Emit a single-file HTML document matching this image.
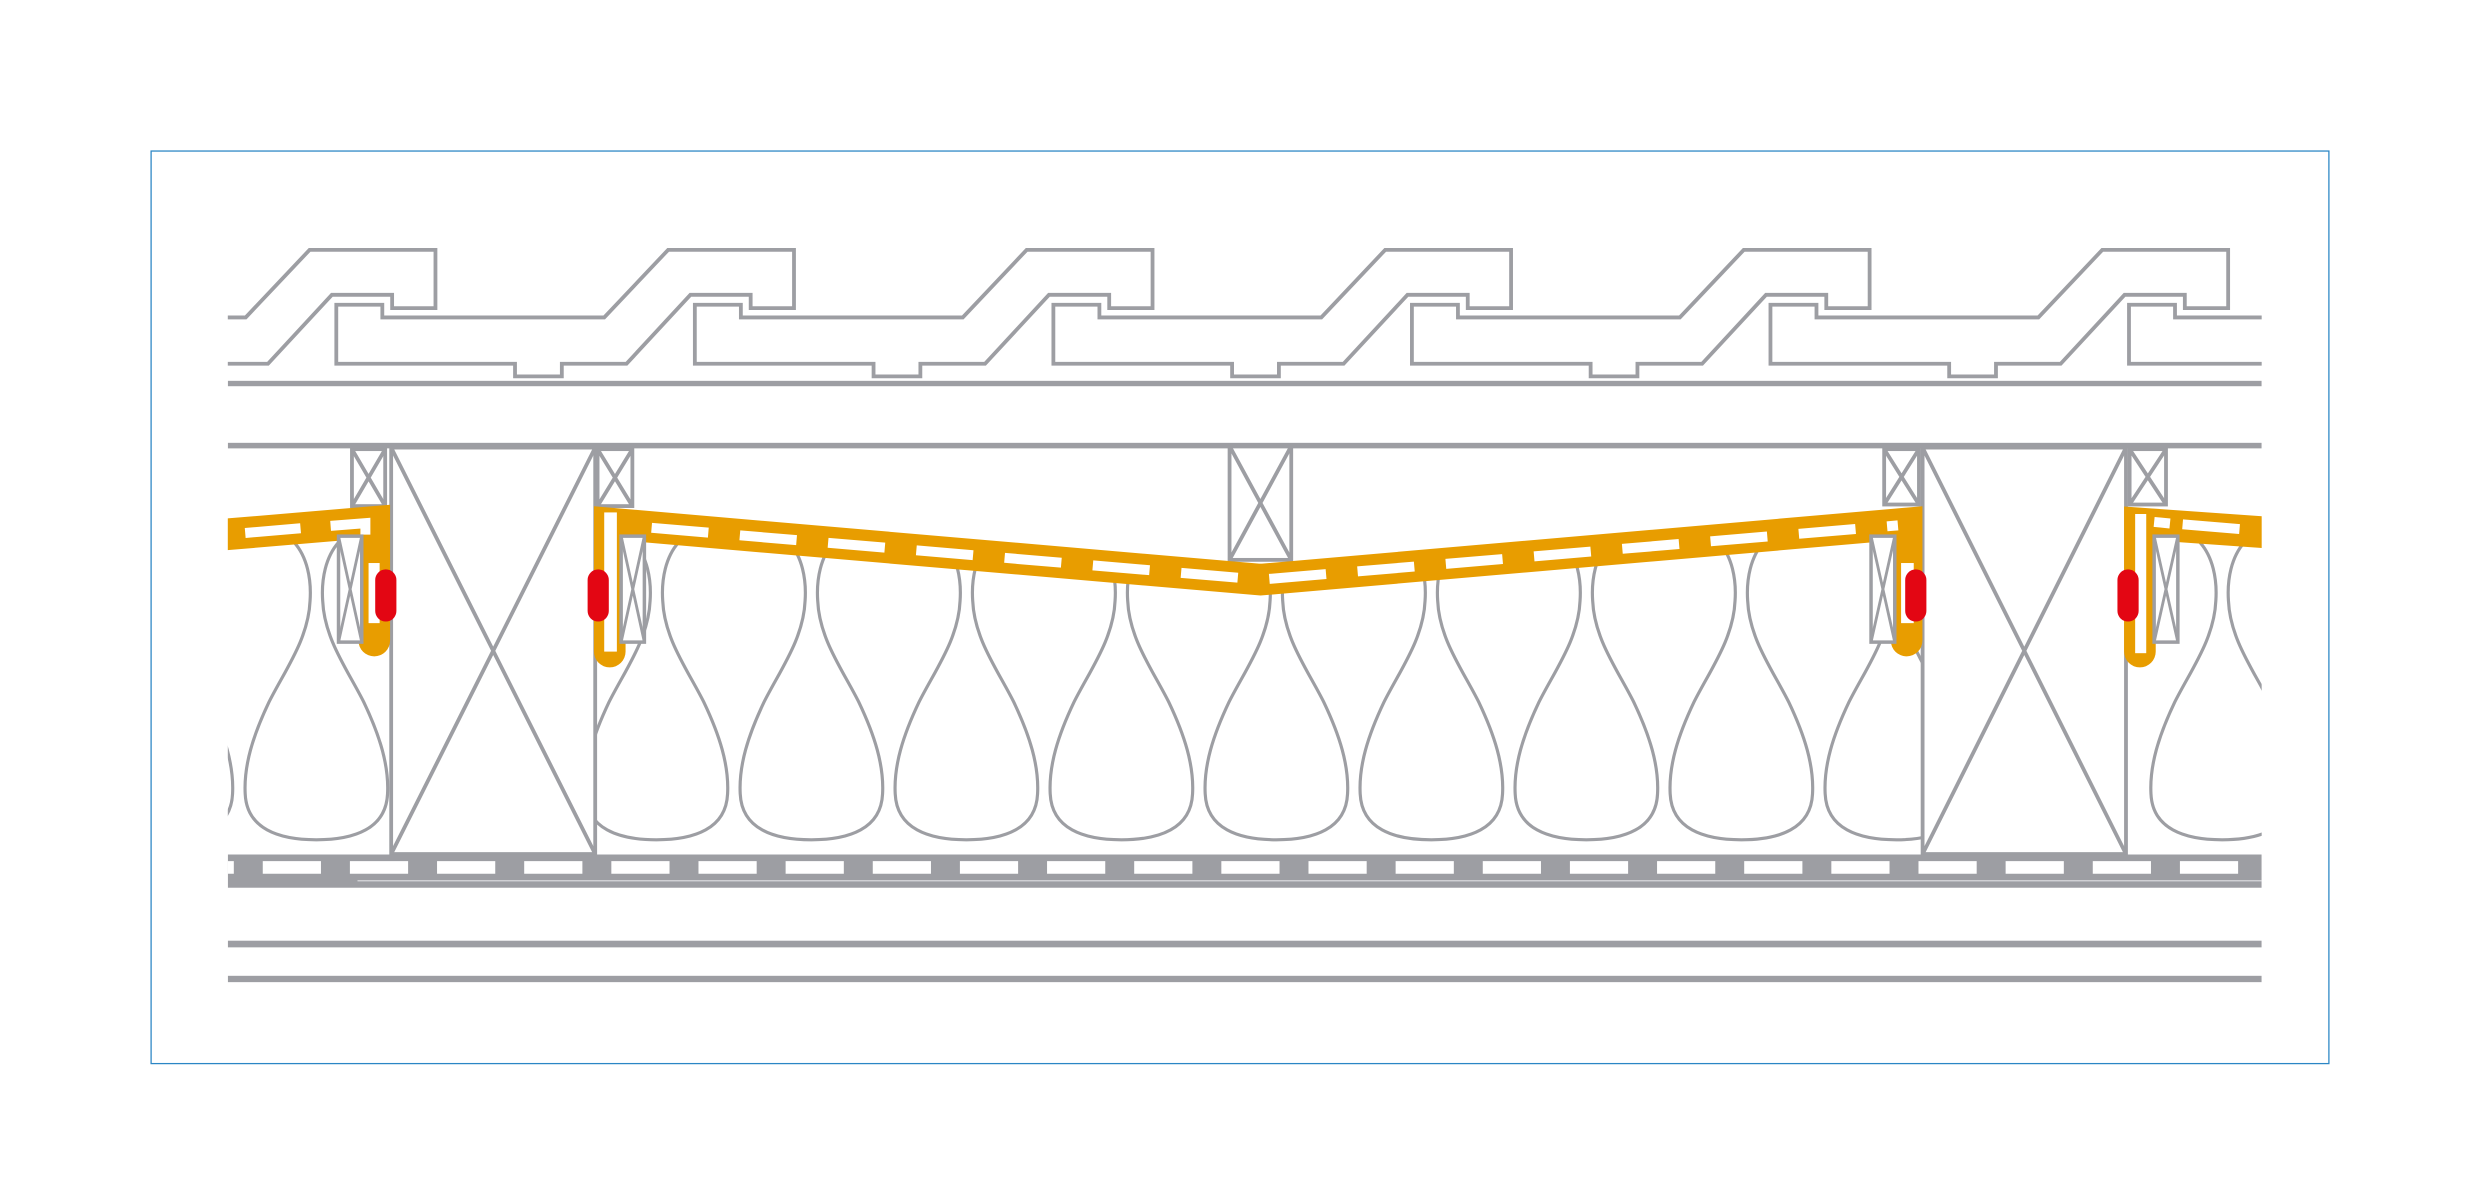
<!DOCTYPE html>
<html><head><meta charset="utf-8"><style>html,body{margin:0;padding:0;background:#fff}svg{display:block}</style></head>
<body>
<svg width="2480" height="1183" viewBox="0 0 1568 748" xmlns="http://www.w3.org/2000/svg">
<defs>
<clipPath id="c"><rect x="144" y="100" width="1286" height="560"/></clipPath>
<polygon id="tile" points="0,192.7 29.1,192.7 29.1,200.7 169.4,200.7 209.8,158 289.4,158 289.4,194.8 262,194.8 262,186.4 223.9,186.4 183.5,230 142.6,230 142.6,238 113,238 113,230 0,230" fill="none" stroke="#9d9ea3" stroke-width="2.4"/>
<path id="loop" d="M -14,343 C -6,352 -3,366 -4,380 C -5,404 -20,424 -30,444 C -40,465 -46,484 -45,502 C -44,524 -24,531 0,531 C 24,531 44,524 45,502 C 46,484 40,465 30,444 C 20,424 5,404 4,380 C 3,366 6,352 14,343" fill="none" stroke="#9d9ea3" stroke-width="2"/>
</defs>
<rect x="95.5" y="95.5" width="1377" height="577" fill="none" stroke="#2b86c5" stroke-width="0.8"/>
<g clip-path="url(#c)">
 <use href="#tile" x="-14.1"/>
 <use href="#tile" x="212.6"/>
 <use href="#tile" x="439.3"/>
 <use href="#tile" x="666"/>
 <use href="#tile" x="892.7"/>
 <use href="#tile" x="1119.4"/>
 <use href="#tile" x="1346.1"/>
 <rect x="144" y="240.8" width="1286" height="3.4" fill="#9d9ea3"/>
 <use href="#loop" x="102"/>
 <use href="#loop" x="200"/>
 <use href="#loop" x="415"/>
 <use href="#loop" x="513"/>
 <use href="#loop" x="611"/>
 <use href="#loop" x="709"/>
 <use href="#loop" x="807"/>
 <use href="#loop" x="905"/>
 <use href="#loop" x="1003"/>
 <use href="#loop" x="1101"/>
 <use href="#loop" x="1199"/>
 <use href="#loop" x="1405"/>
 <use href="#loop" x="1503"/>
 <polygon points="144,283 1430,283 1430,337 1360,331 1205,331 797,366.5 392,331 238,330 144,338" fill="#fff"/>
 <g fill="#fff" stroke="#9d9ea3" stroke-width="2.4">
  <rect x="247.3" y="283" width="129" height="257"/>
  <rect x="1215.6" y="283" width="128.6" height="257"/>
 </g>
 <g stroke="#9d9ea3" stroke-width="2.4" fill="none">
  <path d="M247.3,283 L376.3,540 M376.3,283 L247.3,540"/>
  <path d="M1215.6,283 L1344.2,540 M1344.2,283 L1215.6,540"/>
  <rect x="222.5" y="284" width="21" height="36"/><path d="M222.5,284 L243.5,320 M243.5,284 L222.5,320"/>
  <rect x="377.8" y="284" width="22" height="36"/><path d="M377.8,284 L399.8,320 M399.8,284 L377.8,320"/>
  <rect x="777.4" y="282" width="39" height="72"/><path d="M777.4,282 L816.4,354 M816.4,282 L777.4,354"/>
  <rect x="1191.3" y="284" width="22" height="35"/><path d="M1191.3,284 L1213.3,319 M1213.3,284 L1191.3,319"/>
  <rect x="1346.5" y="284" width="23" height="35"/><path d="M1346.5,284 L1369.5,319 M1369.5,284 L1346.5,319"/>
 </g>
 <rect x="144" y="280" width="1286" height="3.5" fill="#9d9ea3"/>
 <g fill="none" stroke="#e89d00" stroke-width="20" stroke-linejoin="miter">
  <path d="M130,339 L236.6,330 L236.6,405" stroke-linecap="round"/>
  <path d="M385.5,412 L385.5,331 L797,366.5 L1205.5,331 L1205.5,405" stroke-linecap="round"/>
  <path d="M1353,412 L1353,331 L1445,337.5" stroke-linecap="round"/>
 </g>
 <g fill="none" stroke="#fff" stroke-width="6.3">
  <path d="M155,337 L190,334 M209,332.5 L231,330.8 L231,338"/>
  <path d="M400,332.7 L797,366.5 L1200,332.2" stroke-dasharray="36 20" stroke-dashoffset="-12"/>
  <path d="M1362,330 L1372,331 M1380,331.5 L1416,334.5"/>
 </g>
 <g fill="#fff">
  <rect x="233" y="356" width="7" height="38"/>
  <rect x="382" y="324" width="8" height="88"/>
  <rect x="1202" y="356" width="8" height="38"/>
  <rect x="1350" y="325" width="7" height="88"/>
 </g>
 <g stroke="#9d9ea3" stroke-width="2.2" fill="#fff">
  <rect x="214" y="339" width="14.7" height="67"/>
  <rect x="392.7" y="339" width="14.7" height="67"/>
  <rect x="1183" y="339" width="15" height="67"/>
  <rect x="1362" y="339" width="15" height="67"/>
 </g>
 <g stroke="#9d9ea3" stroke-width="1.8" fill="none">
  <path d="M214,339 L228.7,406 M228.7,339 L214,406"/>
  <path d="M392.7,339 L407.4,406 M407.4,339 L392.7,406"/>
  <path d="M1183,339 L1198,406 M1198,339 L1183,406"/>
  <path d="M1362,339 L1377,406 M1377,339 L1362,406"/>
 </g>
 <g fill="#e30613">
  <rect x="237.2" y="360" width="13.4" height="33" rx="6.7"/>
  <rect x="371.5" y="360" width="13.4" height="33" rx="6.7"/>
  <rect x="1204.6" y="360" width="13.4" height="33" rx="6.7"/>
  <rect x="1338.8" y="360" width="13.4" height="33" rx="6.7"/>
 </g>
 <rect x="144" y="540.3" width="1286" height="21" fill="#9d9ea3"/>
 <line x1="111" y1="548.5" x2="1430" y2="548.5" stroke="#fff" stroke-width="8" stroke-dasharray="36.8 18.3"/>
 <rect x="226" y="556.5" width="1204" height="0.8" fill="#d8d8db"/>
 <rect x="144" y="594.8" width="1286" height="4.2" fill="#9d9ea3"/>
 <rect x="144" y="617" width="1286" height="4" fill="#9d9ea3"/>
</g>
</svg>
</body></html>
